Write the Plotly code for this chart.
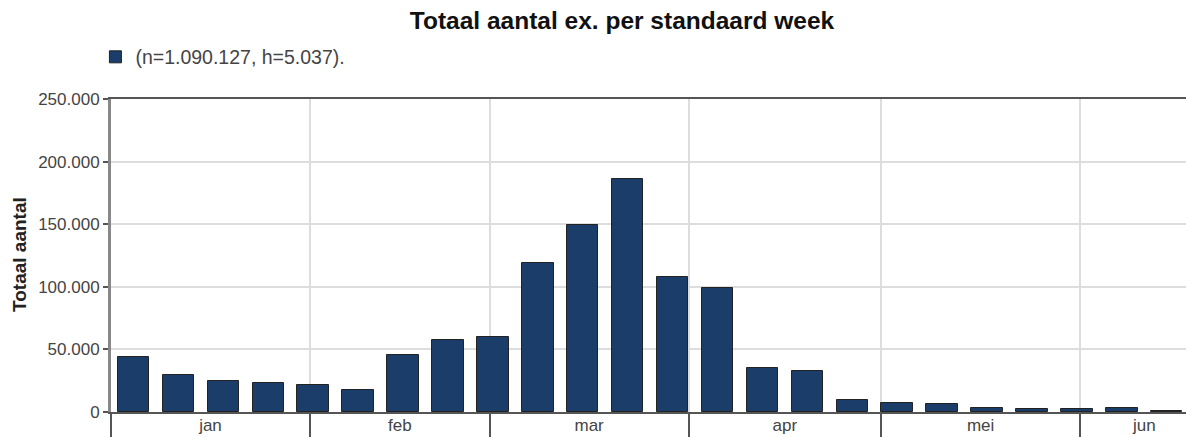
import pandas as pd
import plotly.graph_objects as go

# Data
weeks = list(range(1, 25))
totals = [44100, 29800, 24400, 23200, 21800, 17700, 45400, 57300, 60000,
          118700, 149400, 185900, 107500, 98700, 35200, 32800, 9600, 7400,
          6200, 3400, 2100, 2100, 3400, 1100]
month_labels = ["jan", "feb", "mar", "apr", "mei", "jun"]
month_starts = ["2019-01-01", "2019-02-01", "2019-03-01", "2019-04-01",
                "2019-05-01", "2019-06-01"]
legend_label = "(n=1.090.127, h=5.037)."
title_text = "Totaal aantal ex. per standaard week"
y_title = "Totaal aantal"
y_ticks = [0, 50000, 100000, 150000, 200000, 250000]

year_start = pd.Timestamp("2019-01-01")
week_centers = [year_start + pd.Timedelta(days=(w - 1) * 7 + 3.5) for w in weeks]
bar_width_ms = 4.9 * 86400000

starts = [pd.Timestamp(s) for s in month_starts]
range_end = year_start + pd.Timedelta(days=167.5)
label_end = year_start + pd.Timedelta(days=171)
label_pos = []
for i, s in enumerate(starts):
    e = starts[i + 1] if i + 1 < len(starts) else label_end
    label_pos.append(s + (e - s) / 2)

FONT = "Liberation Sans, Arial, sans-serif"

fig = go.Figure()
fig.add_trace(go.Bar(
    x=week_centers, y=totals, width=bar_width_ms,
    marker=dict(color="#1b3d6a", line=dict(color="#222222", width=1)),
    name=legend_label, showlegend=True, hoverinfo="skip",
))

fig.update_layout(
    width=1186, height=437,
    margin=dict(l=111, r=0, t=99, b=25, autoexpand=False),
    paper_bgcolor="white", plot_bgcolor="white",
    separators=",.",
    font=dict(family=FONT, color="#444444", size=16),
    title=dict(text="<b>" + title_text + "</b>", x=622 / 1186, xanchor="center",
               y=1 - 20 / 437, yanchor="middle", xref="container", yref="container",
               font=dict(family=FONT, size=24.5, color="#111111")),
    showlegend=True,
    legend=dict(x=-0.0145, y=1.196, xanchor="left", yanchor="top",
                font=dict(family=FONT, size=19.5, color="#444444"),
                bgcolor="rgba(0,0,0,0)"),
    bargap=0,
)

fig.update_xaxes(
    type="date", range=[year_start, range_end],
    tickmode="array", tickvals=label_pos, ticktext=month_labels,
    ticks="", showgrid=False, ticklabelstandoff=-3,
    tickfont=dict(family=FONT, size=17, color="#444444"),
    showline=True, linecolor="#555555", linewidth=2, mirror=True,
    minor=dict(tickmode="array", tickvals=starts, ticks="outside", ticklen=26,
               tickwidth=2, tickcolor="#555555", showgrid=True,
               gridcolor="#dddddd", gridwidth=1.5),
)

fig.update_yaxes(
    range=[0, 250000], tickmode="array", tickvals=y_ticks, tickformat=",d",
    ticks="outside", ticklen=5, tickwidth=2, tickcolor="#555555",
    tickfont=dict(family=FONT, size=17, color="#444444"),
    showgrid=True, gridcolor="#dddddd", gridwidth=1.5,
    showline=True, linecolor="#888888", linewidth=3, zeroline=False,
)

fig.add_annotation(
    text="<b>" + y_title + "</b>", textangle=-90,
    xref="paper", yref="paper", x=(19 - 111) / 1075, y=(412 - 255) / 313,
    xanchor="center", yanchor="middle", showarrow=False,
    font=dict(family=FONT, size=19, color="#222222"),
)

fig.write_html("out.html", config={"displayModeBar": False},
               post_script="document.body.style.margin='0';")
